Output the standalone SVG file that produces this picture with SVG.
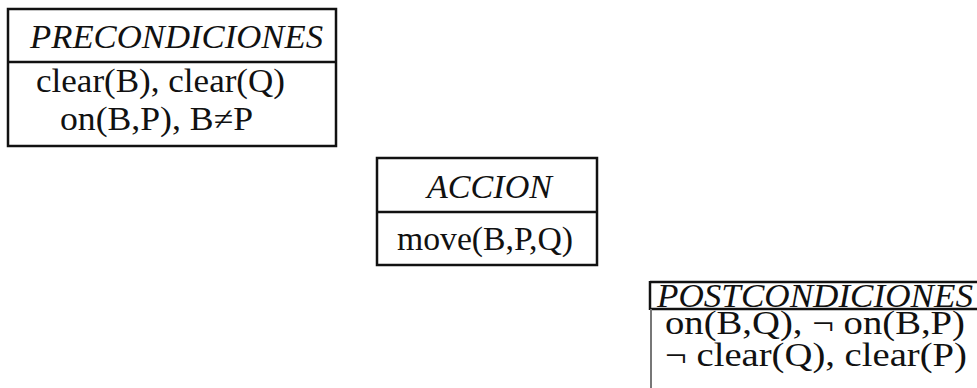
<svg xmlns="http://www.w3.org/2000/svg" width="977" height="388" viewBox="0 0 977 388">
<style>
.box{fill:#fff;stroke:#111;stroke-width:2.5}
.ln{stroke:#111;stroke-width:2.5;fill:none}
.t{font-family:"Liberation Serif","Times New Roman",serif;font-size:33px;fill:#111}
.i{font-style:italic}
</style>
<rect width="977" height="388" fill="#fff"/>
<g id="precondiciones">
<rect class="box" x="8" y="9" width="328" height="137"/>
<line class="ln" x1="8" y1="62" x2="336" y2="62"/>
<text class="t i" x="30" y="48" textLength="293" lengthAdjust="spacingAndGlyphs">PRECONDICIONES</text>
<text class="t" x="36" y="92" textLength="249" lengthAdjust="spacingAndGlyphs">clear(B), clear(Q)</text>
<text class="t" x="60" y="130" textLength="193" lengthAdjust="spacingAndGlyphs">on(B,P), B≠P</text>
</g>
<g id="accion">
<rect class="box" x="377" y="158" width="220" height="107"/>
<line class="ln" x1="377" y1="212" x2="597" y2="212"/>
<text class="t i" x="427" y="198" textLength="125" lengthAdjust="spacingAndGlyphs">ACCION</text>
<text class="t" x="397" y="250" textLength="176" lengthAdjust="spacingAndGlyphs">move(B,P,Q)</text>
</g>
<g id="postcondiciones">
<line class="ln" x1="650" y1="282" x2="977" y2="282"/>
<line class="ln" x1="650" y1="281" x2="650" y2="310"/>
<line class="ln" x1="650" y1="309" x2="977" y2="309"/>
<line x1="651" y1="309" x2="651" y2="388" stroke="#777" stroke-width="2"/>
<text class="t i" x="657" y="307" textLength="316" lengthAdjust="spacingAndGlyphs">POSTCONDICIONES</text>
<text class="t" x="665" y="334" textLength="300" lengthAdjust="spacingAndGlyphs">on(B,Q), ¬ on(B,P)</text>
<text class="t" x="665" y="366" textLength="302" lengthAdjust="spacingAndGlyphs">¬ clear(Q), clear(P)</text>
</g>
<g id="connectors"></g>
</svg>
